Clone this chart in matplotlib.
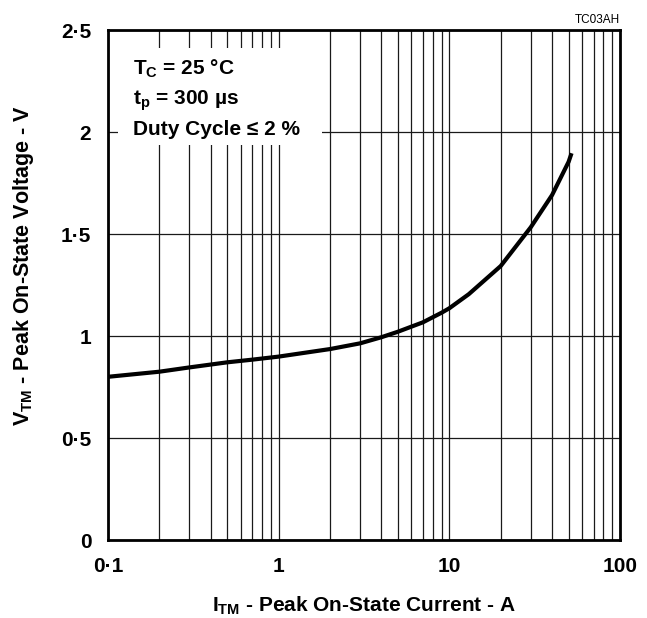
import matplotlib
matplotlib.use("Agg")
import matplotlib.pyplot as plt
from matplotlib.patches import Rectangle
from matplotlib.ticker import FixedLocator, NullFormatter

# Data
current_A = [0.1, 0.2, 0.3, 0.5, 0.7, 1, 2, 3, 4, 5, 6, 7, 8, 9, 10, 13, 20, 30, 40, 50, 52]
voltage_V = [0.80, 0.825, 0.846, 0.871, 0.884, 0.899, 0.936, 0.964, 0.994, 1.021, 1.046,
             1.067, 1.092, 1.114, 1.136, 1.205, 1.343, 1.533, 1.691, 1.854, 1.896]

x_ticks = [0.1, 1, 10, 100]
x_tick_labels = ["0·1", "1", "10", "100"]
y_ticks = [0, 0.5, 1, 1.5, 2, 2.5]
y_tick_labels = ["0", "0·5", "1", "1·5", "2", "2·5"]
minor_x = [m * d for d in [0.1, 1, 10] for m in range(2, 10)]

plt.rcParams["font.family"] = ["Liberation Sans", "DejaVu Sans"]
plt.rcParams["font.weight"] = "bold"
plt.rcParams["mathtext.fontset"] = "custom"
plt.rcParams["mathtext.rm"] = "Liberation Sans:bold"
plt.rcParams["mathtext.it"] = "Liberation Sans:bold"
plt.rcParams["mathtext.bf"] = "Liberation Sans:bold"

fig = plt.figure(figsize=(6.47, 6.18), dpi=100)
ax = fig.add_axes([108 / 647, 1 - 540 / 618, 512 / 647, 510 / 618])

ax.set_xscale("log")
ax.set_xlim(0.1, 100)
ax.set_ylim(0, 2.5)

ax.xaxis.set_major_locator(FixedLocator(x_ticks))
ax.set_xticklabels(x_tick_labels)
ax.xaxis.set_minor_locator(FixedLocator(minor_x))
ax.xaxis.set_minor_formatter(NullFormatter())
ax.set_yticks(y_ticks)
ax.set_yticklabels(y_tick_labels)

ax.grid(True, which="both", axis="x", color="#1a1a1a", lw=0.9, zorder=1)
ax.grid(True, which="major", axis="y", color="#1a1a1a", lw=0.9, zorder=1)
ax.set_axisbelow(True)

ax.tick_params(axis="both", which="both", length=0, labelsize=15)
ax.tick_params(axis="y", pad=12)
ax.tick_params(axis="x", pad=12)

for s in ax.spines.values():
    s.set_linewidth(2.0)
    s.set_color("black")
    s.set_zorder(5)

# white box behind annotation
ax.add_patch(Rectangle((0.0195, 0.7745), 0.3985, 0.19, transform=ax.transAxes,
                       facecolor="white", edgecolor="none", zorder=2))

ax.plot(current_A, voltage_V, color="black", lw=3.0, solid_capstyle="butt", zorder=4)

tx = 0.049
ax.text(tx, 0.912, r"T$_\mathrm{C}$ = 25 °C", transform=ax.transAxes, fontsize=15,
        fontweight="bold", va="baseline", ha="left", zorder=3)
ax.text(tx, 0.853, r"t$_\mathrm{p}$ = 300 µs", transform=ax.transAxes, fontsize=15,
        fontweight="bold", va="baseline", ha="left", zorder=3)
ax.text(tx, 0.794, "Duty Cycle ≤ 2 %", transform=ax.transAxes, fontsize=15,
        fontweight="bold", va="baseline", ha="left", zorder=3)

ax.set_xlabel(r"I$_\mathrm{TM}$ - Peak On-State Current - A", fontsize=15, fontweight="bold",
              labelpad=14)
ax.set_ylabel(r"V$_\mathrm{TM}$ - Peak On-State Voltage - V", fontsize=15.5, fontweight="bold")
ax.yaxis.set_label_coords(-0.14, 0.537)

fig.text(620 / 647, 1 - 20 / 618, "TC03AH", fontsize=8.5, fontweight="normal",
         ha="right", va="center")

fig.savefig("out.png", dpi=100)
